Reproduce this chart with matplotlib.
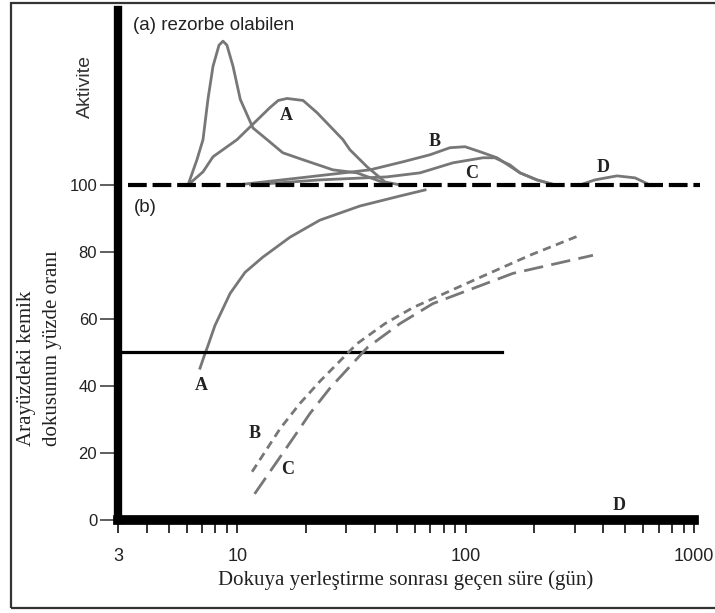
import matplotlib.pyplot as plt
from matplotlib.ticker import FixedLocator, NullFormatter, FixedFormatter
from matplotlib.patches import Rectangle

# (a) aktivite egrileri (100 uzerinde)
sharp_x = [6.08, 6.65, 7.07, 7.43, 7.82, 8.31, 8.65, 9.0, 9.57, 10.3, 11.7, 13.5, 15.8, 19.4, 26.2, 33.4, 46.6]
sharp_y = [100, 107.5, 113.5, 125.5, 135.4, 141.7, 142.9, 141.7, 135.4, 125.5, 117, 113.5, 109.6, 107.5, 104.5, 103.6, 100]

upA_x = [6.08, 7.07, 7.82, 9.96, 11.4, 13.9, 15.1, 16.5, 19.4, 22.3, 29.0, 31.1, 37.0, 44.3, 51.6]
upA_y = [100, 103.9, 108.4, 113.5, 117.4, 123.1, 125.2, 125.8, 125.2, 121.6, 113.5, 110.5, 105.4, 100.9, 100]

upB_x = [9.96, 18.8, 38.1, 53.1, 69.8, 85.3, 99.3, 115.6, 137.2, 173, 205, 246]
upB_y = [100, 102.1, 104.5, 106.9, 109.0, 111.1, 111.4, 109.9, 108.1, 103.6, 101.5, 100]

upC_x = [11.4, 23.0, 45.2, 63.1, 88.0, 119, 134, 156, 173, 205, 246]
upC_y = [100, 101.5, 102.4, 103.6, 106.6, 108.1, 108.1, 106.0, 103.6, 101.5, 100]

upD_x = [317, 368, 460, 552, 641]
upD_y = [100, 101.5, 102.7, 102.1, 100]

base_x = [3.32, 1062]
base_y = [100, 100]

# (b) arayuzdeki kemik dokusu yuzdesi
lowA_x = [6.86, 7.15, 7.43, 7.97, 9.29, 10.8, 12.9, 17.0, 23.0, 34.4, 51.6, 66.4]
lowA_y = [45.3, 48.9, 52.0, 58.0, 67.6, 73.9, 78.4, 84.4, 89.5, 93.7, 96.7, 98.5]

half_x = [3, 144]
half_y = [50, 50]

lowB_x = [11.6, 15.4, 18.8, 23.0, 33.4, 44.3, 58.8, 115.6, 191, 317]
lowB_y = [14.4, 27.3, 34.8, 41.4, 52.6, 58.6, 63.4, 72.4, 79.0, 85.0]

lowC_x = [11.9, 17.5, 20.8, 25.4, 37.0, 51.5, 71.9, 161, 361]
lowC_y = [7.8, 24.3, 31.8, 39.3, 51.4, 58.6, 64.6, 73.6, 79.0]

y_ticks = [0, 20, 40, 60, 80, 100]
x_major = [3, 10, 100, 1000]
x_labels = ['3', '10', '100', '1000']
x_minor = [4, 5, 6, 7, 8, 9, 20, 30, 40, 50, 60, 70, 80, 90,
           200, 300, 400, 500, 600, 700, 800, 900]

W, H = 715, 613
fig = plt.figure(figsize=(W / 100, H / 100), dpi=100)
ax = fig.add_axes([118 / W, 1 - 520 / H, (694 - 118) / W, (520 - 10) / H])

def px(x, y):
    return x / W, 1 - y / H

gray = '#777777'
ax.plot(sharp_x, sharp_y, color=gray, lw=2)
ax.plot(upA_x, upA_y, color=gray, lw=2)
ax.plot(upB_x, upB_y, color=gray, lw=2)
ax.plot(upC_x, upC_y, color=gray, lw=2)
ax.plot(upD_x, upD_y, color=gray, lw=2)
ax.plot(base_x, base_y, color='black', lw=3, dashes=(4.5, 1.4), clip_on=False)

ax.plot(lowA_x, lowA_y, color=gray, lw=2)
ax.plot(half_x, half_y, color='black', lw=2.3)
ax.plot(lowB_x, lowB_y, color=gray, lw=2, dashes=(3, 2))
ax.plot(lowC_x, lowC_y, color=gray, lw=2, dashes=(7, 3))

ax.set_xscale('log')
ax.set_xlim(3, 1000)
ax.set_ylim(0, 152.2)

ax.xaxis.set_major_locator(FixedLocator(x_major))
ax.xaxis.set_major_formatter(FixedFormatter(x_labels))
ax.xaxis.set_minor_locator(FixedLocator(x_minor))
ax.xaxis.set_minor_formatter(NullFormatter())
ax.set_yticks(y_ticks)

for s in ['top', 'right']:
    ax.spines[s].set_visible(False)
ax.spines['left'].set_linewidth(6)
ax.spines['bottom'].set_linewidth(7)

ax.tick_params(axis='x', which='both', direction='out', length=9.5, width=1.4,
               color='#333333', pad=11, labelsize=13)
ax.tick_params(axis='y', direction='out', length=13, width=1.1,
               color='#333333', pad=2, labelsize=12)
for lab in ax.get_xticklabels() + ax.get_yticklabels():
    lab.set_fontfamily('Liberation Sans')
    lab.set_color('#222222')

# metinler
sans = 'Liberation Sans'
serif = 'Liberation Serif'
fig.text(*px(133, 26), '(a) rezorbe olabilen', family=sans, fontsize=13.5,
         ha='left', va='center', color='#222222')
fig.text(*px(145, 208), '(b)', family=sans, fontsize=13.5,
         ha='center', va='center', color='#222222')
fig.text(*px(85, 86), 'Aktivite', family=sans, fontsize=14, rotation=90,
         ha='center', va='center', color='#333333')
fig.text(*px(27, 446), 'Arayüzdeki kemik', family=serif, fontsize=15,
         rotation=90, ha='center', va='bottom', color='#222222')
fig.text(*px(53, 446), 'dokusunun yüzde oranı', family=serif, fontsize=15,
         rotation=90, ha='center', va='bottom', color='#222222')
fig.text(*px(406, 580), 'Dokuya yerleştirme sonrası geçen süre (gün)',
         family=serif, fontsize=15, ha='center', va='center', color='#222222')

curve_labels = [('A', 286, 116), ('B', 435, 142), ('C', 472, 173), ('D', 603, 167),
                ('A', 201, 386), ('B', 255, 434), ('C', 288, 469), ('D', 619, 506)]
for txt, x, y in curve_labels:
    fig.text(*px(x, y), txt, family=serif, fontsize=13, fontweight='bold',
             ha='center', va='center', color='#222222')

# resim cercevesi
fig.patches.append(Rectangle(px(11, 608), (720 - 11) / W, (608 - 3) / H,
                             transform=fig.transFigure, fill=False,
                             edgecolor='#333333', lw=1.6))

fig.savefig('out.png', dpi=100)
